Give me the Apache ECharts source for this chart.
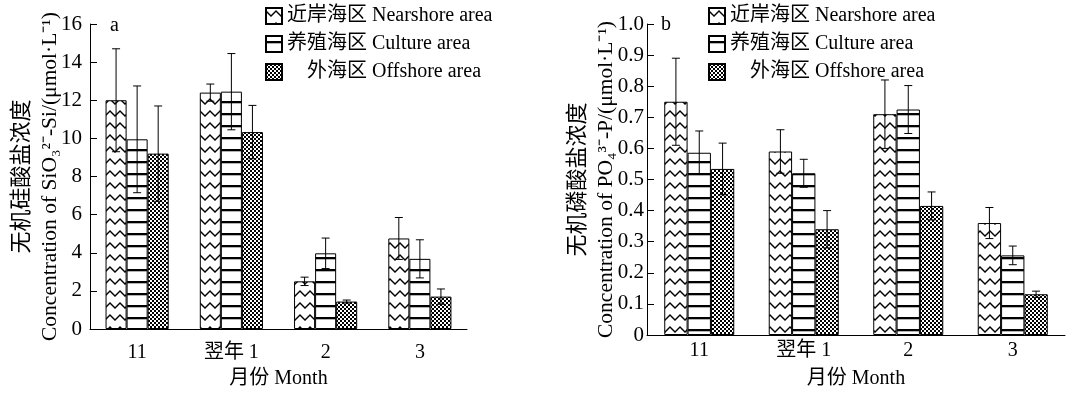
<!DOCTYPE html>
<html>
<head>
<meta charset="utf-8">
<script src="https://cdn.jsdelivr.net/npm/echarts@6/dist/echarts.min.js"></script>
<style>
html,body{margin:0;padding:0;background:#fff;}
#c{width:1072px;height:394px;}
</style>
</head>
<body>
<div id="c"></div>
<script>
// ---- data ----
const categories = ['11', '翌年 1', '2', '3'];
const seriesNames = ['近岸海区 Nearshore area', '养殖海区 Culture area', '外海区 Offshore area'];

// Panel a: SiO3 (µmol/L)
const siNear = [12.0, 12.4, 2.5, 4.75];
const siNearErr = [2.7, 0.45, 0.22, 1.1];
const siCulture = [9.95, 12.45, 3.97, 3.68];
const siCultureErr = [2.8, 2.0, 0.8, 1.0];
const siOff = [9.2, 10.33, 1.44, 1.7];
const siOffErr = [2.5, 1.4, 0.08, 0.4];

// Panel b: PO4 (µmol/L)
const pNear = [0.75, 0.59, 0.71, 0.36];
const pNearErr = [0.14, 0.07, 0.11, 0.05];
const pCulture = [0.586, 0.52, 0.725, 0.256];
const pCultureErr = [0.07, 0.045, 0.077, 0.03];
const pOff = [0.534, 0.34, 0.415, 0.131];
const pOffErr = [0.083, 0.06, 0.045, 0.01];

const siTitleCn = '无机硅酸盐浓度';
const siTitleEn = 'Concentration of SiO₃²⁻-Si/(μmol·L⁻¹)';
const pTitleCn = '无机磷酸盐浓度';
const pTitleEn = 'Concentration of PO₄³⁻-P/(μmol·L⁻¹)';
const xName = '月份 Month';

// ---- patterns ----
function makeCanvas(w, h, draw) {
  const c = document.createElement('canvas');
  c.width = w; c.height = h;
  const ctx = c.getContext('2d');
  ctx.fillStyle = '#fff';
  ctx.fillRect(0, 0, w, h);
  draw(ctx);
  return c;
}
const zigzag = makeCanvas(10, 12, ctx => {
  ctx.strokeStyle = '#000';
  ctx.lineWidth = 1.4;
  ctx.beginPath();
  ctx.moveTo(-1, 2); ctx.lineTo(5, 8); ctx.lineTo(11, 2);
  ctx.stroke();
});
const hlines = makeCanvas(8, 12, ctx => {
  ctx.fillStyle = '#000';
  ctx.fillRect(0, 5, 8, 2.3);
});
const checker = makeCanvas(4, 4, ctx => {
  ctx.fillStyle = '#000';
  ctx.fillRect(0, 0, 2, 2);
  ctx.fillRect(2, 2, 2, 2);
});
const fills = [
  { image: zigzag, repeat: 'repeat' },
  { image: hlines, repeat: 'repeat' },
  { image: checker, repeat: 'repeat' }
];

const FONT = "'Liberation Serif', 'Noto Sans CJK SC', serif";
const GAP = 0.33;

function barSeries(idx, data, axisIdx) {
  return {
    name: seriesNames[idx], type: 'bar',
    xAxisIndex: axisIdx, yAxisIndex: axisIdx,
    data: data,
    barGap: '0%', barCategoryGap: (GAP * 100) + '%',
    itemStyle: { color: fills[idx], borderColor: '#000', borderWidth: 1 },
    emphasis: { disabled: true },
    z: 2
  };
}
function errSeries(idx, vals, errs, axisIdx) {
  return {
    type: 'custom', xAxisIndex: axisIdx, yAxisIndex: axisIdx,
    data: vals.map((v, i) => [i, v, errs[i]]),
    z: 5, silent: true,
    renderItem: function (params, api) {
      const ci = api.value(0), v = api.value(1), e = api.value(2);
      const band = api.size([1, 0])[0];
      const bw = band * (1 - GAP) / 3;
      const cx = api.coord([ci, 0])[0] + (idx - 1) * bw;
      const yT = api.coord([ci, v + e])[1];
      const yB = api.coord([ci, v - e])[1];
      const cap = 4;
      const st = { stroke: '#000', lineWidth: 1 };
      return {
        type: 'group', children: [
          { type: 'line', shape: { x1: cx, y1: yT, x2: cx, y2: yB }, style: st },
          { type: 'line', shape: { x1: cx - cap, y1: yT, x2: cx + cap, y2: yT }, style: st },
          { type: 'line', shape: { x1: cx - cap, y1: yB, x2: cx + cap, y2: yB }, style: st }
        ]
      };
    }
  };
}

function legendFor(left) {
  return {
    orient: 'vertical', left: left, top: 6, itemGap: 8, padding: 0,
    itemWidth: 16, itemHeight: 16, icon: 'rect',
    selectedMode: false,
    data: seriesNames,
    formatter: n => n === seriesNames[2] ? '{g| }' + n : n,
    textStyle: { fontFamily: FONT, fontSize: 20, color: '#000', rich: { g: { width: 20 } } }
  };
}

function xAxisFor(gi, margin, nameGap) {
  return {
    type: 'category', gridIndex: gi, data: categories,
    axisLine: { lineStyle: { color: '#000', width: 1 } },
    axisTick: { show: false },
    axisLabel: { color: '#000', fontFamily: FONT, fontSize: 20, margin: margin },
    name: xName, nameLocation: 'middle', nameGap: nameGap, nameMoveOverlap: false,
    nameTextStyle: { color: '#000', fontFamily: FONT, fontSize: 20 }
  };
}
function yAxisFor(gi, max, interval, fmt, margin, cn, en, nameGap) {
  return {
    type: 'value', gridIndex: gi, min: 0, max: max, interval: interval,
    axisLine: { show: true, lineStyle: { color: '#000', width: 1 } },
    axisTick: { show: true, inside: true, length: 7, lineStyle: { color: '#000' } },
    splitLine: { show: false },
    axisLabel: { color: '#000', fontFamily: FONT, fontSize: 21, margin: margin, formatter: fmt },
    name: '{cn|' + cn + '}\n{en|' + en + '}',
    nameLocation: 'middle', nameRotate: 90, nameGap: nameGap, nameMoveOverlap: false,
    nameTextStyle: {
      color: '#000', fontFamily: FONT, lineHeight: 28,
      rich: {
        cn: { fontSize: 22, lineHeight: 28, fontFamily: FONT, color: '#000' },
        en: { fontSize: 21.5, lineHeight: 28, fontFamily: FONT, color: '#000' }
      }
    }
  };
}

const chart = echarts.init(document.getElementById('c'), null, { renderer: 'canvas' });
chart.setOption({
  backgroundColor: '#fff',
  animation: false,
  grid: [
    { left: 90, right: 605, top: 24, bottom: 61 },
    { left: 647, right: 7, top: 24, bottom: 55 }
  ],
  legend: [legendFor(265), legendFor(708)],
  xAxis: [xAxisFor(0, 14, 40), xAxisFor(1, 6, 34)],
  yAxis: [
    yAxisFor(0, 16, 2, v => String(v), 8, siTitleCn, siTitleEn, 26),
    yAxisFor(1, 1, 0.1, v => v === 0 ? '0' : v.toFixed(1), 3, pTitleCn, pTitleEn, 27)
  ],
  graphic: [
    { type: 'text', left: 110, top: 16, style: { text: 'a', font: '20px ' + FONT, fill: '#000' } },
    { type: 'text', left: 661, top: 15, style: { text: 'b', font: '20px ' + FONT, fill: '#000' } }
  ],
  series: [
    barSeries(0, siNear, 0), barSeries(1, siCulture, 0), barSeries(2, siOff, 0),
    errSeries(0, siNear, siNearErr, 0), errSeries(1, siCulture, siCultureErr, 0), errSeries(2, siOff, siOffErr, 0),
    barSeries(0, pNear, 1), barSeries(1, pCulture, 1), barSeries(2, pOff, 1),
    errSeries(0, pNear, pNearErr, 1), errSeries(1, pCulture, pCultureErr, 1), errSeries(2, pOff, pOffErr, 1)
  ]
});
</script>
</body>
</html>
